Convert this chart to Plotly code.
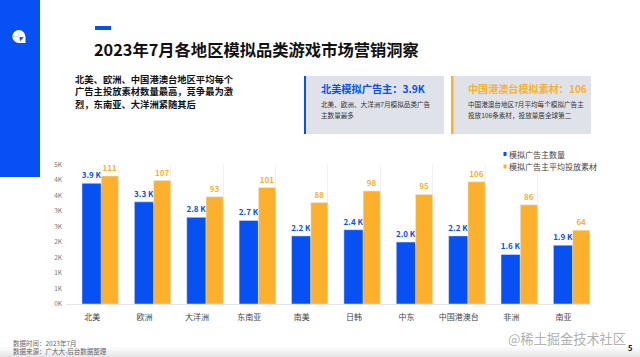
import plotly.graph_objects as go

W, H = 640, 357
categories = ["北美", "欧洲", "大洋洲", "东南亚", "南美", "日韩", "中东", "中国港澳台", "非洲", "南亚"]
advertisers_k = [3.9, 3.3, 2.8, 2.7, 2.2, 2.4, 2.0, 2.2, 1.6, 1.9]
avg_creatives = [111, 107, 93, 101, 88, 98, 95, 106, 86, 64]
series_names = ["模拟广告主数量", "模拟广告主平均投放素材"]
tick_vals = [0, 0.5, 1, 1.5, 2, 2.5, 3, 3.5, 4, 4.5]
tick_text = ["0K", "1K", "1K", "2K", "2K", "3K", "3K", "4K", "4K", "5K"]

BLUE = "#0650f4"
ORANGE = "#fdb02b"
FONT = "Noto Sans CJK SC"

def px(x):
    return x / W

def py(y):
    return 1 - y / H

fig = go.Figure()
fig.add_bar(x=categories, y=advertisers_k, name=series_names[0], marker_color=BLUE, width=0.369, offset=-0.195,
            text=[f"{v:.1f} K" for v in advertisers_k], textposition="outside", cliponaxis=False, constraintext="none",
            textfont=dict(color=BLUE, size=8, family=FONT, weight="bold"), showlegend=False)
fig.add_bar(x=categories, y=avg_creatives, name=series_names[1], marker_color=ORANGE, width=0.325, offset=0.174,
            yaxis="y2", text=avg_creatives, textposition="outside", cliponaxis=False, constraintext="none",
            textfont=dict(color=ORANGE, size=8, family=FONT, weight="bold"), showlegend=False)

shapes = []

def rect(x0, y0, x1, y1, color, layer="below"):
    shapes.append(dict(type="rect", xref="paper", yref="paper", x0=px(x0), x1=px(x1), y0=py(y0), y1=py(y1),
                       fillcolor=color, line_width=0, layer=layer))

rect(0, 0, 40, 177, BLUE)
rect(95, 26, 111, 30, BLUE)
rect(304, 76, 444, 134, "#dfe2e8")
rect(304, 76, 306, 134, BLUE)
rect(451, 76, 591, 134, "#dfe2e8")
rect(451, 76, 453.5, 134, ORANGE)
for i, c in enumerate(["#fafafa", "#f6f6f6", "#f1f1f1", "#ececec", "#e6e6e6"]):
    rect(0, 347 + i * 2, W, 349 + i * 2, c)
rect(503.5, 152, 506.5, 156, BLUE)
rect(503.5, 164.5, 506.5, 168.5, ORANGE)

# logo
shapes.append(dict(type="circle", xref="paper", yref="paper", x0=px(12.3), x1=px(25.3), y0=py(30), y1=py(43),
                   fillcolor="white", line_width=0))
rect(19, 36.5, 25.5, 43, "white")
rect(18.6, 30, 19.2, 36.5, "#a8c2ff", "above")
rect(12.3, 36.2, 18.6, 36.8, "#a8c2ff", "above")
tri = "M {:.5f} {:.5f} L {:.5f} {:.5f} L {:.5f} {:.5f} Z".format(px(19.5), py(37), px(23.8), py(37.3), px(20), py(41.2))
shapes.append(dict(type="path", xref="paper", yref="paper", path=tri, fillcolor=BLUE, line_width=0))

annotations = []

def text(x, y, s, size, color="#222222", bold=False):
    annotations.append(dict(xref="paper", yref="paper", x=px(x - 2), y=py(y), text=s, showarrow=False, xanchor="left",
                            yanchor="middle", align="left",
                            font=dict(family=FONT, size=size, color=color, weight="bold" if bold else "normal")))

text(94, 49.5, "2023年7月各地区模拟品类游戏市场营销洞察", 16.3, "#111111", True)
text(75, 78.5, "北美、欧洲、中国港澳台地区平均每个", 9.3, "#111111", True)
text(75, 91.2, "广告主投放素材数量最高，竞争最为激", 9.3, "#111111", True)
text(75, 103.8, "烈，东南亚、大洋洲紧随其后", 9.3, "#111111", True)
text(321, 88, "北美模拟广告主：3.9K", 10.2, BLUE, True)
text(321, 104.4, "北美、欧洲、大洋洲7月模拟品类广告", 6.6, "#333333")
text(321, 115, "主数量最多", 6.6, "#333333")
text(468, 88, "中国港澳台模拟素材：106", 10.1, ORANGE, True)
text(468, 104.4, "中国港澳台地区7月平均每个模拟广告主", 6.6, "#333333")
text(468, 115, "投放106条素材，投放量居全球第二", 6.6, "#333333")
text(509, 154, series_names[0], 8, "#444444")
text(509, 166.5, series_names[1], 8, "#444444")
text(13, 346.9, "数据时间：2023年7月<br>数据来源：广大大-后台数据整理", 6.5, "#666666")
text(508, 338, "@稀土掘金技术社区", 13.2, "#b0b0b0")
text(628, 347, "5", 7.5, "#111111", True)

fig.update_layout(
    width=W, height=H, autosize=False, margin=dict(l=0, r=0, t=0, b=0),
    paper_bgcolor="white", plot_bgcolor="white", showlegend=False,
    font=dict(family=FONT), shapes=shapes, annotations=annotations,
    xaxis=dict(domain=[px(66), px(589.8)], type="category", tickson="boundaries", ticks="", showgrid=True,
               gridcolor="#f0f0f0", gridwidth=1, showline=True, linecolor="#e4e6ea", linewidth=1,
               tickfont=dict(size=8, color="#444444"), categoryorder="array", categoryarray=categories,
               automargin=False, ticklabelstandoff=5),
    yaxis=dict(domain=[py(304), py(164.7)], range=[0, 4.5], tickvals=tick_vals, ticktext=tick_text, showgrid=False,
               zeroline=False, tickfont=dict(size=6.5, color="#777777"), automargin=False, ticks="",
               ticklabelstandoff=3),
    yaxis2=dict(overlaying="y", side="right", range=[0, 120.8], visible=False, showgrid=False),
)

fig.write_html("out.html", config=dict(displayModeBar=False), post_script="document.body.style.margin='0';")
